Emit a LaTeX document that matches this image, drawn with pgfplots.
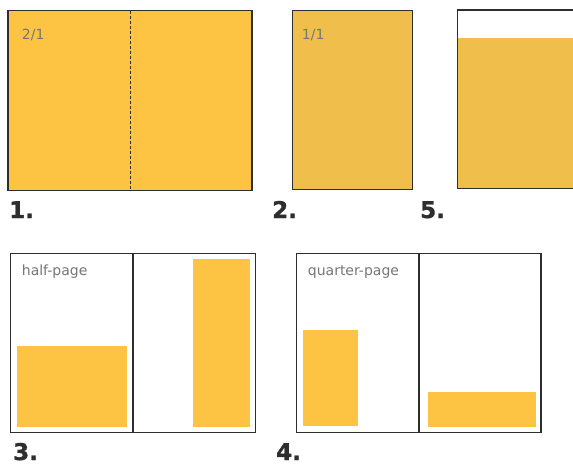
\documentclass[border=0pt]{standalone}
\usepackage{fontspec}
\setmainfont{DejaVu Sans}
\newfontfamily\numfont{DejaVu Sans}[BoldFeatures={FakeBold=1.2}]
\usepackage{pgfplots}
\pgfplotsset{compat=1.18}
\definecolor{adA}{HTML}{FDC443}
\definecolor{adB}{HTML}{F0BE4A}
\definecolor{frame}{HTML}{2E2E2E}
\definecolor{labgray}{HTML}{767676}
\begin{document}
\begin{tikzpicture}
\begin{axis}[
    width=573pt, height=466pt, scale only axis,
    xmin=0, xmax=573, ymin=0, ymax=466, y dir=reverse,
    hide axis, clip=true,
    every axis plot/.append style={line join=miter},
  ]
  % 1. double page
  \addplot[fill=adA, draw=frame, line width=1.3pt] coordinates {(8,10.5) (252,10.5) (252,190.5) (8,190.5)} -- cycle;
  \addplot[draw=frame, dashed, line width=1pt, dash pattern=on 3pt off 2pt] coordinates {(130,10.5) (130,190.5)};
  % 2. full page
  \addplot[fill=adB, draw=frame, line width=1.3pt] coordinates {(292.7,10.7) (412.3,10.7) (412.3,189.3) (292.7,189.3)} -- cycle;
  % 5. cut page
  \addplot[fill=white, draw=frame, line width=1.3pt] coordinates {(457.3,10) (580,10) (580,188.7) (457.3,188.7)} -- cycle;
  \addplot[fill=adB, draw=none] coordinates {(458,38.3) (580,38.3) (580,188) (458,188)} -- cycle;
  \addplot[draw=frame, line width=1.3pt] coordinates {(457.3,10) (457.3,188.7) (580,188.7)};
  % 3. half page
  \addplot[fill=white, draw=frame, line width=1.3pt] coordinates {(10.7,253.3) (255.3,253.3) (255.3,432.7) (10.7,432.7)} -- cycle;
  \addplot[draw=frame, line width=2.2pt] coordinates {(133.3,253.3) (133.3,432.7)};
  \addplot[fill=adA, draw=none] coordinates {(16.7,346) (127,346) (127,426.7) (16.7,426.7)} -- cycle;
  \addplot[fill=adA, draw=none] coordinates {(193.3,259) (250,259) (250,426.7) (193.3,426.7)} -- cycle;
  % 4. quarter page
  \addplot[fill=white, draw=frame, line width=1.3pt] coordinates {(296.7,253.3) (541,253.3) (541,432.7) (296.7,432.7)} -- cycle;
  \addplot[draw=frame, line width=2.2pt] coordinates {(418.7,253.3) (418.7,432.7)};
  \addplot[fill=adA, draw=none] coordinates {(302.7,330) (358,330) (358,425.7) (302.7,425.7)} -- cycle;
  \addplot[fill=adA, draw=none] coordinates {(428,392) (536,392) (536,426.7) (428,426.7)} -- cycle;
  % labels
  \begin{scope}[every node/.style={anchor=west, text=labgray, font=\fontsize{14}{16}\selectfont, inner sep=0pt}]
    \node at (axis cs:21.7,35) {2/1};
    \node at (axis cs:301.7,35) {1/1};
    \node at (axis cs:21.7,272) {half-page};
    \node at (axis cs:307.7,272) {quarter-page};
  \end{scope}
  \begin{scope}[every node/.style={anchor=base west, text=frame, font=\numfont\bfseries\fontsize{23}{25}\selectfont, inner sep=0pt}]
    \node at (axis cs:9,218) {1.};
    \node at (axis cs:272,218) {2.};
    \node at (axis cs:420,218) {5.};
    \node at (axis cs:13,460) {3.};
    \node at (axis cs:276,460) {4.};
  \end{scope}
\end{axis}
\pgfresetboundingbox
\path (current axis.south west) rectangle (current axis.north east);
\end{tikzpicture}
\end{document}
